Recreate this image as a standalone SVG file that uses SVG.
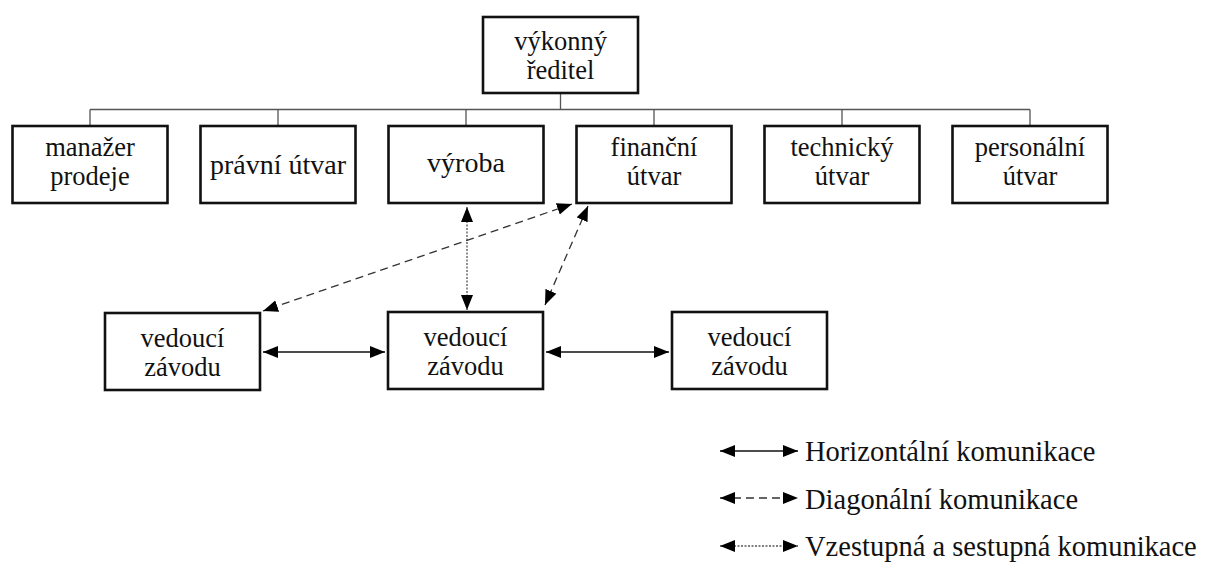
<svg xmlns="http://www.w3.org/2000/svg" width="1211" height="571" viewBox="0 0 1211 571">
<style>
.box{fill:#fff;stroke:#111;stroke-width:2.6}
.nodetext{font-family:"Liberation Serif","Times New Roman",serif;font-size:26.5px;fill:#111;text-anchor:middle}
.single{font-family:"Liberation Serif","Times New Roman",serif;font-size:28px;fill:#111;text-anchor:middle}
.lg{font-family:"Liberation Serif","Times New Roman",serif;font-size:28.5px;fill:#111}
.bus{stroke:#555;stroke-width:1.3;fill:none}
.solid{stroke:#111;stroke-width:1.5;fill:none;marker-start:url(#ah);marker-end:url(#ah)}
.dash{stroke:#333;stroke-width:1.3;stroke-dasharray:8 5;fill:none;marker-start:url(#ah);marker-end:url(#ah)}
.dot{stroke:#555;stroke-width:1.3;stroke-dasharray:2 1.5;fill:none;marker-start:url(#ah);marker-end:url(#ah)}
</style>
<defs>
<marker id="ah" markerUnits="userSpaceOnUse" markerWidth="16" markerHeight="13" refX="15" refY="6" orient="auto-start-reverse">
<path d="M0,0 L15,6 L0,12 z" fill="#000"/>
</marker>
</defs>
<rect width="1211" height="571" fill="#fff"/>
<g id="hierarchy-lines">
<path class="bus" d="M560.5,93 V109.5 M90,109.5 H1030 M90,109.5 V126 M278,109.5 V126 M466,109.5 V126 M654,109.5 V126 M842,109.5 V126 M1030,109.5 V126"/>
</g>
<g id="n-reditel"><rect class="box" x="483" y="17" width="155" height="76"/><text class="nodetext" x="560.5" y="49.5"><tspan x="560.5">výkonný</tspan><tspan x="560.5" dy="29.5">ředitel</tspan></text></g>
<g id="n-manazer"><rect class="box" x="12.5" y="126" width="155" height="77"/><text class="nodetext" x="90" y="155.5"><tspan x="90">manažer</tspan><tspan x="90" dy="29.5">prodeje</tspan></text></g>
<g id="n-pravni"><rect class="box" x="200.5" y="126" width="155" height="77"/><text class="single" x="278" y="174">právní útvar</text></g>
<g id="n-vyroba"><rect class="box" x="388.5" y="126" width="155" height="77"/><text class="single" x="466" y="172">výroba</text></g>
<g id="n-financni"><rect class="box" x="576.5" y="126" width="155" height="77"/><text class="nodetext" x="654" y="155.5"><tspan x="654">finanční</tspan><tspan x="654" dy="29.5">útvar</tspan></text></g>
<g id="n-technicky"><rect class="box" x="764.5" y="126" width="155" height="77"/><text class="nodetext" x="842" y="155.5"><tspan x="842">technický</tspan><tspan x="842" dy="29.5">útvar</tspan></text></g>
<g id="n-personalni"><rect class="box" x="952.5" y="126" width="155" height="77"/><text class="nodetext" x="1030" y="155.5"><tspan x="1030">personální</tspan><tspan x="1030" dy="29.5">útvar</tspan></text></g>
<g id="n-vedouci1"><rect class="box" x="105" y="313" width="155" height="77"/><text class="nodetext" x="182.5" y="346.5"><tspan x="182.5">vedoucí</tspan><tspan x="182.5" dy="29.5">závodu</tspan></text></g>
<g id="n-vedouci2"><rect class="box" x="388" y="312" width="155" height="77"/><text class="nodetext" x="465.5" y="345.5"><tspan x="465.5">vedoucí</tspan><tspan x="465.5" dy="29.5">závodu</tspan></text></g>
<g id="n-vedouci3"><rect class="box" x="672" y="312" width="155" height="77"/><text class="nodetext" x="749.5" y="345.5"><tspan x="749.5">vedoucí</tspan><tspan x="749.5" dy="29.5">závodu</tspan></text></g>
<g id="connectors">
<line class="solid" x1="263" y1="352" x2="385" y2="352"/>
<line class="solid" x1="546" y1="352" x2="669" y2="352"/>
<line class="dot" x1="467" y1="207" x2="467" y2="310"/>
<line class="dash" x1="572" y1="204" x2="263" y2="311"/>
<line class="dash" x1="588" y1="206" x2="545" y2="305"/>
</g>
<g id="legend">
<line class="solid" x1="720" y1="451" x2="798" y2="451"/>
<text class="lg" x="805" y="461">Horizontální komunikace</text>
<line class="dash" x1="720" y1="498" x2="798" y2="498"/>
<text class="lg" x="805" y="509">Diagonální komunikace</text>
<line class="dot" x1="720" y1="546" x2="798" y2="546"/>
<text class="lg" x="805" y="556">Vzestupná a sestupná komunikace</text>
</g>
</svg>
